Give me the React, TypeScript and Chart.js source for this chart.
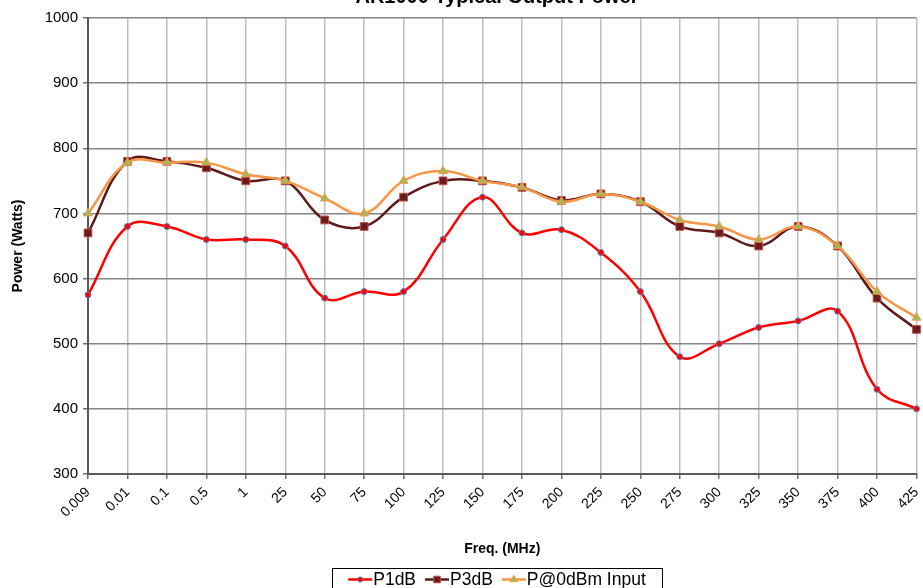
import React, { useEffect, useRef } from "react";
import { Chart, registerables } from "chart.js";

Chart.register(...registerables);

const categories = ["0.009", "0.01", "0.1", "0.5", "1", "25", "50", "75", "100", "125", "150", "175", "200", "225", "250", "275", "300", "325", "350", "375", "400", "425"];
const p1dB = [575, 680, 680, 660, 660, 650, 570, 580, 580, 660, 725, 670, 675, 640, 580, 480, 500, 525, 535, 550, 430, 400];
const p3dB = [670, 780, 780, 770, 750, 750, 690, 680, 725, 750, 750, 740, 720, 730, 718, 680, 670, 650, 680, 650, 570, 522];
const p0dBm = [700, 778, 778, 778, 760, 750, 723, 700, 750, 765, 750, 740, 718, 730, 718, 690, 680, 660, 680, 650, 580, 540];
const seriesNames = ["P1dB", "P3dB", "P@0dBm Input"];
const titleText = "AR1000 Typical Output Power";
const xTitle = "Freq. (MHz)";
const yTitle = "Power (Watts)";
const yMin = 300;
const yMax = 1000;
const yStep = 100;

const FONT = "'Liberation Sans', Arial, sans-serif";

const styles = [
  { line: "#FF0000", fill: "#FF0000", edge: "#4F81BD", shape: "circle", r: 3 },
  { line: "#5E1A1A", fill: "#6B1B1B", edge: "#C0504D", shape: "rect", r: 5.5 },
  { line: "#F79646", fill: "#9BBB59", edge: "#F79646", shape: "triangle", r: 5 },
];

function drawMarker(ctx: CanvasRenderingContext2D, shape: string, x: number, y: number, r: number, fill: string, edge: string) {
  ctx.save();
  ctx.fillStyle = fill;
  ctx.strokeStyle = edge;
  ctx.lineWidth = 1;
  ctx.beginPath();
  if (shape === "circle") {
    ctx.arc(x, y, r, 0, Math.PI * 2);
  } else if (shape === "rect") {
    const s = r * Math.SQRT1_2;
    ctx.rect(x - s, y - s, 2 * s, 2 * s);
  } else {
    const h = r * 1.5;
    ctx.moveTo(x, y - r);
    ctx.lineTo(x + r * 0.95, y + h - r);
    ctx.lineTo(x - r * 0.95, y + h - r);
    ctx.closePath();
  }
  ctx.fill();
  ctx.stroke();
  ctx.restore();
}

const titlePlugin = {
  id: "cutTitle",
  afterDraw(chart: any) {
    const ctx = chart.ctx as CanvasRenderingContext2D;
    ctx.save();
    ctx.font = `bold 20px ${FONT}`;
    ctx.fillStyle = "#000";
    ctx.textAlign = "center";
    ctx.textBaseline = "alphabetic";
    ctx.fillText(titleText, 497, 2.5);
    ctx.restore();
  },
};

const legendPlugin = {
  id: "boxLegend",
  afterDraw(chart: any) {
    const ctx = chart.ctx as CanvasRenderingContext2D;
    ctx.save();
    ctx.font = `17.5px ${FONT}`;
    const lineW = 24;
    const gapText = 1;
    const gapItem = 9;
    const widths = seriesNames.map((n) => ctx.measureText(n).width);
    const total = widths.reduce((a, w) => a + lineW + gapText + w, 0) + gapItem * (seriesNames.length - 1);
    const cx = 497;
    const boxW = 330;
    const boxTop = 568;
    const yMid = 579.5;
    ctx.strokeStyle = "#000";
    ctx.lineWidth = 1;
    ctx.strokeRect(Math.round(cx - boxW / 2) + 0.5, boxTop + 0.5, boxW, 40);
    let x = cx - total / 2;
    seriesNames.forEach((n, i) => {
      const st = styles[i];
      ctx.strokeStyle = st.line;
      ctx.lineWidth = 2.5;
      ctx.beginPath();
      ctx.moveTo(x, yMid);
      ctx.lineTo(x + lineW, yMid);
      ctx.stroke();
      drawMarker(ctx, st.shape, x + lineW / 2, yMid, st.r * 0.85, st.fill, st.edge);
      ctx.fillStyle = "#000";
      ctx.textAlign = "left";
      ctx.textBaseline = "middle";
      ctx.fillText(n, x + lineW + gapText, yMid + 1);
      x += lineW + gapText + widths[i] + gapItem;
    });
    ctx.restore();
  },
};

export default function App() {
  const ref = useRef<HTMLCanvasElement | null>(null);
  useEffect(() => {
    if (!ref.current) return;
    Chart.defaults.font.family = FONT;
    Chart.defaults.color = "#000";
    const data = [p1dB, p3dB, p0dBm];
    const chart = new Chart(ref.current, {
      type: "line",
      data: {
        labels: categories,
        datasets: seriesNames.map((name, i) => ({
          label: name,
          data: data[i],
          borderColor: styles[i].line,
          backgroundColor: styles[i].fill,
          pointBackgroundColor: styles[i].fill,
          pointBorderColor: styles[i].edge,
          pointBorderWidth: 1,
          pointStyle: styles[i].shape,
          pointRadius: styles[i].r,
          borderWidth: 2.5,
          tension: 0.4,
          fill: false,
          order: 3 - i,
        })),
      },
      options: {
        responsive: false,
        animation: false,
        layout: { padding: { left: 0, right: 5, top: 18, bottom: 28 } },
        plugins: {
          legend: { display: false },
          title: { display: false },
          tooltip: { enabled: false },
        },
        scales: {
          x: {
            type: "category",
            offset: false,
            grid: {
              color: "#BEBEBE",
              lineWidth: 1.5,
              tickLength: 5,
              tickColor: "#707070",
              offset: false,
            },
            border: { color: "#5A5A5A", width: 2 },
            ticks: {
              font: { size: 14 },
              color: "#000",
              minRotation: 45,
              maxRotation: 45,
              padding: 5,
              autoSkip: false,
            },
            title: {
              display: true,
              text: xTitle,
              font: { size: 14, weight: "bold" },
              color: "#000",
              padding: { top: 0, bottom: 2 },
            },
            afterFit(scale: any) {
              scale.height = 86;
              scale.paddingLeft = 0;
              scale.paddingRight = 0;
            },
          },
          y: {
            type: "linear",
            min: yMin,
            max: yMax,
            ticks: {
              stepSize: yStep,
              font: { size: 15 },
              color: "#000",
              padding: 5,
              callback: (v: any) => String(v),
            },
            grid: {
              color: "#858585",
              lineWidth: 1.5,
              tickLength: 5,
              tickColor: "#707070",
            },
            border: { color: "#5A5A5A", width: 2 },
            title: {
              display: true,
              text: yTitle,
              font: { size: 14, weight: "bold" },
              color: "#000",
              padding: { top: 10, bottom: 0 },
            },
            afterFit(scale: any) {
              scale.width = 88;
              scale.paddingTop = 0;
              scale.paddingBottom = 0;
            },
          },
        },
      },
      plugins: [titlePlugin, legendPlugin],
    } as any);
    return () => chart.destroy();
  }, []);
  return (
    <div style={{ position: "fixed", left: 0, top: 0, width: 923, height: 588, background: "#fff" }}>
      <canvas ref={ref} width={923} height={588} style={{ display: "block" }} />
    </div>
  );
}
